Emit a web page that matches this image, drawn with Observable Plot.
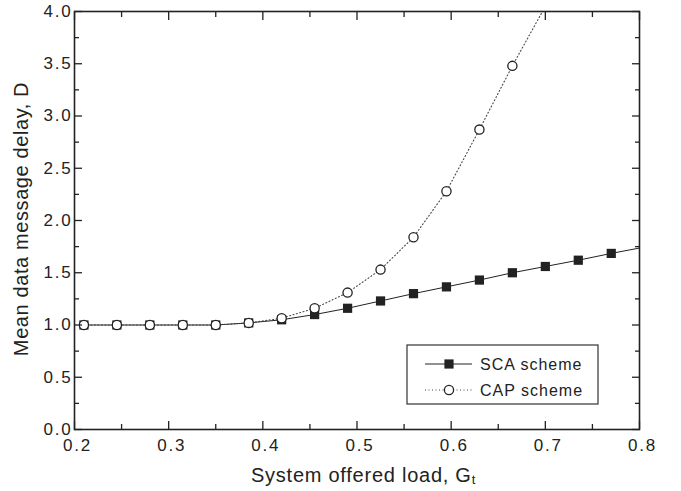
<!DOCTYPE html>
<html><head><meta charset="utf-8">
<script src="https://cdn.jsdelivr.net/npm/d3@7"></script>
<script src="https://cdn.jsdelivr.net/npm/@observablehq/plot@0.6"></script>
<style>
body{margin:0;background:#fff;}
#chart{position:relative;width:681px;height:491px;font-family:"Liberation Sans",Arial,sans-serif;}
#chart svg{position:absolute;left:0;top:0;}
</style></head><body><div id="chart"></div>
<script>
// ---- data ----
const loadSCA  = [0.21,0.245,0.28,0.315,0.35,0.385,0.42,0.455,0.49,0.525,0.56,0.595,0.63,0.665,0.70,0.735,0.77,0.805];
const delaySCA = [1.00,1.00,1.00,1.00,1.00,1.02,1.05,1.10,1.16,1.23,1.30,1.365,1.43,1.50,1.56,1.62,1.685,1.745];
const loadCAP  = [0.21,0.245,0.28,0.315,0.35,0.385,0.42,0.455,0.49,0.525,0.56,0.595,0.63,0.665,0.70];
const delayCAP = [1.00,1.00,1.00,1.00,1.00,1.02,1.065,1.16,1.31,1.53,1.84,2.28,2.87,3.48,4.05];
const seriesNames = ["SCA scheme","CAP scheme"];
const xMajor = [0.2,0.3,0.4,0.5,0.6,0.7,0.8];
const xMinor = [0.25,0.35,0.45,0.55,0.65,0.75];
const yMajor = [0,0.5,1,1.5,2,2.5,3,3.5,4];
const yMinor = [0.25,0.75,1.25,1.75,2.25,2.75,3.25,3.75];
const xLabel = "System offered load, G", xLabelSub = "t";
const yLabel = "Mean data message delay, D";

const sca = loadSCA.map((x,i)=>({x, y: delaySCA[i]}));
const cap = loadCAP.map((x,i)=>({x, y: delayCAP[i]}));

const ink = "#222";
const fmt = d3.format(".1f");
const font = "'Liberation Sans', Arial, sans-serif";

const plot = Plot.plot({
  width: 681, height: 491,
  marginLeft: 74, marginRight: 42, marginTop: 11, marginBottom: 62,
  style: {fontFamily: font, fontSize: "17px", background: "white", color: ink},
  x: {domain: [0.2, 0.8]},
  y: {domain: [0, 4]},
  marks: [
    Plot.line(sca, {x: "x", y: "y", stroke: ink, strokeWidth: 1, clip: true}),
    Plot.dot(sca, {x: "x", y: "y", symbol: "square", r: 5.2, fill: ink, stroke: "none", clip: true}),
    Plot.line(cap, {x: "x", y: "y", stroke: "#444", strokeWidth: 1.1, strokeDasharray: "1 2.5", clip: true}),
    Plot.dot(cap, {x: "x", y: "y", r: 4.6, fill: "white", stroke: ink, strokeWidth: 1.3, clip: true}),
    Plot.frame({stroke: ink, strokeWidth: 1.6}),
    // bottom axis
    Plot.axisX(xMajor, {anchor: "bottom", tickSize: -8, fill: "none", stroke: ink, strokeWidth: 1.3, label: null}),
    Plot.axisX(xMinor, {anchor: "bottom", tickSize: -5, fill: "none", stroke: ink, strokeWidth: 1.3, label: null}),
    Plot.axisX(xMajor, {anchor: "bottom", tickSize: 0, tickPadding: 9.5, dx: 3, tickFormat: fmt, fill: ink, label: null}),
    // top axis
    Plot.axisX(xMajor, {anchor: "top", tickSize: -8, fill: "none", stroke: ink, strokeWidth: 1.3, label: null}),
    Plot.axisX(xMinor, {anchor: "top", tickSize: -5, fill: "none", stroke: ink, strokeWidth: 1.3, label: null}),
    // left axis
    Plot.axisY(yMajor, {anchor: "left", tickSize: -8, fill: "none", stroke: ink, strokeWidth: 1.3, label: null}),
    Plot.axisY(yMinor, {anchor: "left", tickSize: -5, fill: "none", stroke: ink, strokeWidth: 1.3, label: null}),
    Plot.axisY(yMajor, {anchor: "left", tickSize: 0, tickPadding: 2, tickFormat: fmt, fill: ink, label: null}),
    // right axis
    Plot.axisY(yMajor, {anchor: "right", tickSize: -8, fill: "none", stroke: ink, strokeWidth: 1.3, label: null}),
    Plot.axisY(yMinor, {anchor: "right", tickSize: -5, fill: "none", stroke: ink, strokeWidth: 1.3, label: null})
  ]
});

const root = d3.select("#chart");
root.node().appendChild(plot);
const svg = d3.select(plot);
svg.selectAll("text").style("letter-spacing", "1.8px");

// axis titles
const xt = svg.append("text")
  .attr("x", 251).attr("y", 482).attr("text-anchor", "start")
  .attr("fill", ink).style("font-family", font).style("font-size", "20px")
  .style("letter-spacing", "0.75px");
xt.append("tspan").text(xLabel);
xt.append("tspan").attr("dy", 2).style("font-size", "13px").text(xLabelSub);

svg.append("text")
  .attr("transform", "translate(28,219) rotate(-90)")
  .attr("text-anchor", "middle")
  .attr("fill", ink).style("font-family", font).style("font-size", "20px")
  .style("letter-spacing", "0.6px")
  .text(yLabel);

// legend
const lg = svg.append("g");
lg.append("rect").attr("x", 407).attr("y", 345).attr("width", 191).attr("height", 59)
  .attr("fill", "white").attr("stroke", "#333").attr("stroke-width", 1.2);
const rows = [
  {name: seriesNames[0], y: 364, dash: null, sym: "square"},
  {name: seriesNames[1], y: 390, dash: "1 2.5", sym: "circle"}
];
rows.forEach(r => {
  lg.append("line").attr("x1", 425).attr("x2", 472).attr("y1", r.y).attr("y2", r.y)
    .attr("stroke", r.dash ? "#444" : ink).attr("stroke-width", r.dash ? 1.1 : 1)
    .attr("stroke-dasharray", r.dash);
  if (r.sym === "square") {
    lg.append("rect").attr("x", 449 - 4.6).attr("y", r.y - 4.6).attr("width", 9.2).attr("height", 9.2).attr("fill", ink);
  } else {
    lg.append("circle").attr("cx", 449).attr("cy", r.y).attr("r", 4.6)
      .attr("fill", "white").attr("stroke", ink).attr("stroke-width", 1.3);
  }
  lg.append("text").attr("x", 480).attr("y", r.y + 6).attr("text-anchor", "start")
    .attr("fill", ink).style("font-family", font).style("font-size", "16px")
    .style("letter-spacing", "1px").text(r.name);
});
</script></body></html>
